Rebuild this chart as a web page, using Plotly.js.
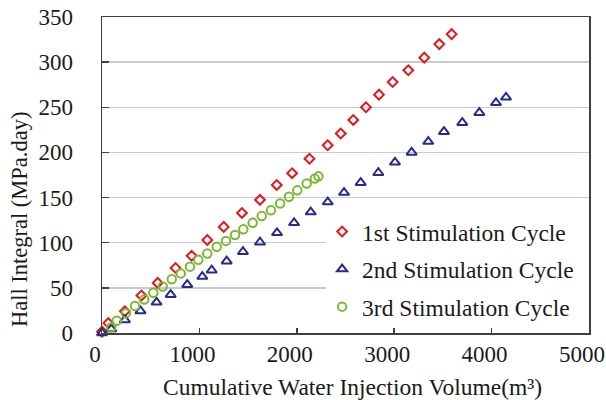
<!DOCTYPE html>
<html>
<head>
<meta charset="utf-8">
<script src="https://cdn.plot.ly/plotly-3.0.1.min.js"></script>
<style>html,body{margin:0;padding:0;background:#fff;}#chart{width:606px;height:400px;}</style>
</head>
<body>
<div id="chart"></div>
<script>
// Cycle 1 (red diamonds)
var cycle1X = [0, 65, 235, 405, 572, 755, 920, 1081, 1250, 1437, 1622, 1794, 1952, 2130, 2317, 2451, 2580, 2710, 2844, 2984, 3145, 3309, 3463, 3590];
var cycle1Y = [1.5, 11, 24, 41.5, 55.5, 72, 85.5, 103, 117.5, 133, 147.5, 164, 177, 193, 208, 221, 236, 250, 264, 278, 291, 305, 320, 331];
// Cycle 2 (blue triangles)
var cycle2X = [0, 95, 235, 395, 560, 705, 875, 1030, 1126, 1280, 1447, 1622, 1797, 1972, 2143, 2318, 2485, 2656, 2837, 3008, 3179, 3350, 3511, 3699, 3874, 4045, 4148];
var cycle2Y = [0, 4.5, 14.5, 24.5, 34, 42.5, 53.5, 62.5, 69.5, 79.5, 90, 100.5, 111, 122, 134, 145, 155.5, 166.5, 177.5, 189, 200, 212, 223, 233, 244, 255, 261];
// Cycle 3 (green circles)
var cycle3X = [95, 151, 246, 339, 434, 527, 623, 716, 808, 903, 989, 1081, 1178, 1273, 1366, 1451, 1547, 1640, 1735, 1828, 1920, 2005, 2101, 2185, 2222];
var cycle3Y = [6, 13.5, 22, 30, 37, 44.5, 51.5, 59.5, 66, 73.5, 81, 88, 95.5, 102, 108.5, 115, 122, 129.5, 136, 143.5, 151, 158, 165.5, 171, 173.5];

var seriesNames = ['1st Stimulation Cycle', '2nd Stimulation Cycle', '3rd Stimulation Cycle'];
var xTicks = [0, 1000, 2000, 3000, 4000, 5000];
var yTicks = [0, 50, 100, 150, 200, 250, 300, 350];

var FONT = 'Liberation Serif';
var TXT = '#1a1a1a';

var traces = [
  {x: cycle1X, y: cycle1Y, name: seriesNames[0], legendgroup: 'a', type: 'scatter', mode: 'markers', cliponaxis: false,
   marker: {symbol: 'diamond-open', size: 7.5, color: '#e8141c', line: {width: 2, color: '#e8141c'}}},
  {x: cycle2X, y: cycle2Y, name: seriesNames[1], legendgroup: 'b', type: 'scatter', mode: 'markers', cliponaxis: false,
   marker: {symbol: 'triangle-up-open', size: 9, color: '#262b8e', line: {width: 2, color: '#262b8e'}}},
  {x: cycle3X, y: cycle3Y, name: seriesNames[2], legendgroup: 'c', type: 'scatter', mode: 'markers', cliponaxis: false,
   marker: {symbol: 'circle-open', size: 8.5, color: '#7cb834', line: {width: 2, color: '#7cb834'}}}
];

var layout = {
  width: 606, height: 400,
  margin: {l: 102, r: 17, t: 17, b: 67, pad: 0},
  paper_bgcolor: '#ffffff', plot_bgcolor: '#ffffff',
  font: {family: FONT, size: 23, color: TXT},
  showlegend: true,
  legend: {x: 0.452, xanchor: 'left', y: 0.39, yanchor: 'top', bgcolor: 'rgba(0,0,0,0)',
           font: {family: FONT, size: 23.5, color: TXT}, tracegroupgap: 4, traceorder: 'grouped'},
  xaxis: {range: [0, 5000], tickvals: xTicks, ticktext: xTicks.map(String), showgrid: false, zeroline: false,
          showline: true, mirror: true, linecolor: '#404040', linewidth: 1.5,
          ticks: 'inside', ticklen: 5, tickwidth: 1.5, tickcolor: '#404040',
          ticklabelshift: -7, tickfont: {family: FONT, size: 23, color: TXT}},
  yaxis: {range: [0, 350], tickvals: yTicks, ticktext: yTicks.map(String), showgrid: true, gridcolor: '#c3cbd4', gridwidth: 1.5,
          zeroline: false, showline: true, mirror: true, linecolor: '#404040', linewidth: 1.5,
          ticks: 'inside', ticklen: 7, tickwidth: 1.5, tickcolor: '#404040',
          ticklabelstandoff: 23, tickfont: {family: FONT, size: 23, color: TXT}},
  shapes: [
    {type: 'rect', xref: 'x', yref: 'y', x0: 2300, x1: 5000, y0: 0, y1: 130, layer: 'between',
     fillcolor: '#ffffff', line: {width: 0}}
  ],
  annotations: [
    {text: 'Cumulative Water Injection Volume(m³)', xref: 'paper', yref: 'paper', x: 0.515, y: -0.172,
     xanchor: 'center', yanchor: 'middle', showarrow: false, font: {family: FONT, size: 23.5, color: TXT}},
    {text: 'Hall Integral (MPa.day)', xref: 'paper', yref: 'paper', x: -0.168, y: 0.361, textangle: -90,
     xanchor: 'center', yanchor: 'middle', showarrow: false, font: {family: FONT, size: 22.5, color: TXT}}
  ]
};

Plotly.newPlot('chart', traces, layout, {displayModeBar: false, staticPlot: true});
</script>
</body>
</html>
